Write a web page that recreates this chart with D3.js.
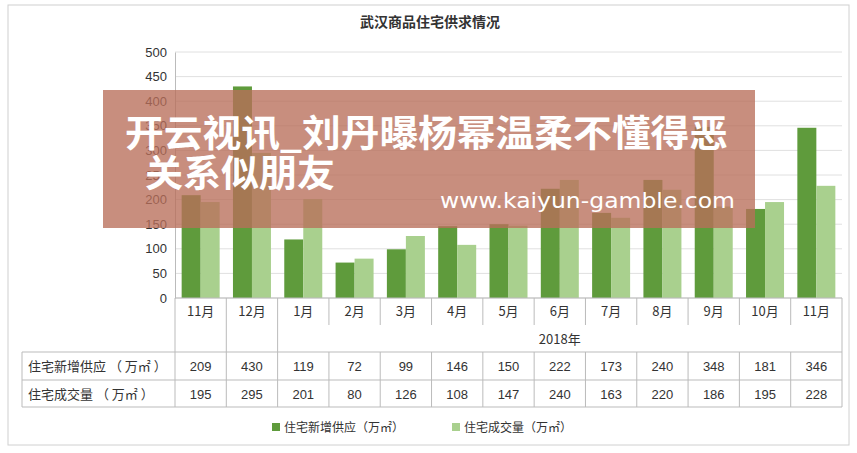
<!DOCTYPE html>
<html><head><meta charset="utf-8">
<script src="https://cdn.jsdelivr.net/npm/d3@7/dist/d3.min.js"></script>
<style>body{margin:0;background:#fff}svg{display:block;font-family:"Noto Sans CJK SC","Noto Sans",sans-serif}</style>
</head><body><svg id="c" width="857" height="453"></svg>
<script>
const categories=["11月","12月","1月","2月","3月","4月","5月","6月","7月","8月","9月","10月","11月"];
const supply=[209,430,119,72,99,146,150,222,173,240,348,181,346];
const deal=[195,295,201,80,126,108,147,240,163,220,186,195,228];
const yTicks=[0,50,100,150,200,250,300,350,400,450,500];
const seriesNames=["住宅新增供应（万㎡）","住宅成交量（万㎡）"];
const colors=["#5f9b3c","#a9d08e"];
const svg=d3.select("#c");
const L=175,R=842,T=52,B=298;
svg.append("rect").attr("x",8).attr("y",5).attr("width",841).attr("height",440).attr("fill","#fff").attr("stroke","#d0d0d0");
svg.append("text").attr("x",430).attr("y",27).attr("text-anchor","middle").attr("font-size",14).attr("font-weight","bold").attr("fill","#333").text("武汉商品住宅供求情况");
const x=d3.scaleBand().domain(d3.range(categories.length)).range([L,R]);
const y=d3.scaleLinear().domain([0,500]).range([B,T]);
const g=svg.append("g");
g.selectAll("line.g").data(yTicks).join("line").attr("x1",L).attr("x2",R).attr("y1",d=>y(d)).attr("y2",d=>y(d)).attr("stroke","#e0e0e0");
const ax=svg.append("g").attr("transform",`translate(${L},0)`).call(d3.axisLeft(y).tickValues(yTicks).tickSize(0).tickPadding(8));
ax.select(".domain").attr("stroke","#bbb");
ax.selectAll("text").attr("font-size",13).attr("fill","#333").attr("font-family","Liberation Sans,sans-serif");
const bw=19;
[supply,deal].forEach((s,i)=>{
 svg.append("g").selectAll("rect").data(s).join("rect")
  .attr("x",(d,j)=>x(j)+x.bandwidth()/2-bw+i*bw).attr("width",bw)
  .attr("y",d=>y(d)).attr("height",d=>B-y(d)).attr("fill",colors[i]);
});
const tl=22,rows=[298,325,352,380,407];
const tg=svg.append("g").attr("stroke","#bbb");
tg.append("line").attr("x1",L).attr("x2",R).attr("y1",B).attr("y2",B);
[352,380,407].forEach(yy=>tg.append("line").attr("x1",tl).attr("x2",R).attr("y1",yy).attr("y2",yy));
tg.append("line").attr("x1",tl).attr("x2",tl).attr("y1",352).attr("y2",407);
categories.forEach((c,j)=>{
 const xx=x(j);
 tg.append("line").attr("x1",xx).attr("x2",xx).attr("y1",j<=2?B:352).attr("y2",407);
 if(j>2) tg.append("line").attr("x1",xx).attr("x2",xx).attr("y1",B).attr("y2",325);
});
tg.append("line").attr("x1",R).attr("x2",R).attr("y1",B).attr("y2",407);
const tx=svg.append("g").attr("font-size",13).attr("fill","#333").attr("text-anchor","middle");
categories.forEach((c,j)=>tx.append("text").attr("x",x(j)+x.bandwidth()/2).attr("y",316).text(c));
tx.append("text").attr("x",(x(2)+R)/2).attr("y",344).text("2018年");
[supply,deal].forEach((s,i)=>{
 tx.append("text").attr("x",tl+6).attr("y",rows[2]+19+i*28).attr("text-anchor","start").text(seriesNames[i].replace("（"," （ ").replace("）"," ）"));
 s.forEach((v,j)=>tx.append("text").attr("x",x(j)+x.bandwidth()/2).attr("y",rows[2]+19+i*28).attr("font-family","Liberation Sans,sans-serif").text(v));
});
seriesNames.forEach((n,i)=>{
 const lx=272+i*180;
 svg.append("rect").attr("x",lx).attr("y",423).attr("width",8).attr("height",8).attr("fill",colors[i]);
 svg.append("text").attr("x",lx+12).attr("y",432).attr("font-size",12).attr("fill","#333").text(n);
});
svg.append("rect").attr("x",103).attr("y",90).attr("width",652).attr("height",138).attr("fill","rgba(185,110,90,0.78)");
const ot=svg.append("g").attr("fill","#fff").attr("font-weight","bold");
ot.append("text").attr("x",125).attr("y",147).attr("font-size",37).attr("textLength",603).attr("lengthAdjust","spacingAndGlyphs").text("开云视讯_刘丹曝杨幂温柔不懂得恶");
ot.append("text").attr("x",145).attr("y",187).attr("font-size",37).attr("textLength",190).attr("lengthAdjust","spacingAndGlyphs").text("关系似朋友");
ot.append("text").attr("x",440).attr("y",208).attr("font-size",21).attr("font-weight","normal").attr("font-family","DejaVu Sans,sans-serif").attr("textLength",295).attr("lengthAdjust","spacingAndGlyphs").text("www.kaiyun-gamble.com");
</script></body></html>
